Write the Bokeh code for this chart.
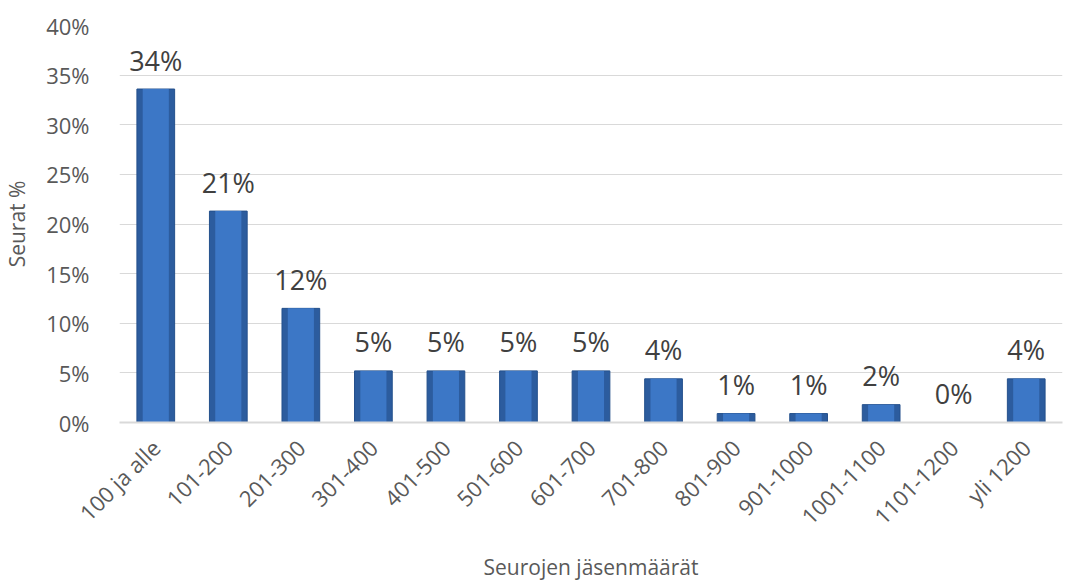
import math
from bokeh.plotting import figure
from bokeh.models import ColumnDataSource, NumeralTickFormatter, FixedTicker, Range1d
from bokeh.embed import file_html
from bokeh.resources import INLINE
from bokeh.core.properties import value

categories = ["100 ja alle", "101-200", "201-300", "301-400", "401-500", "501-600",
              "601-700", "701-800", "801-900", "901-1000", "1001-1100", "1101-1200", "yli 1200"]
shares = [0.336, 0.213, 0.115, 0.052, 0.052, 0.052, 0.052, 0.044, 0.009, 0.009, 0.018, 0.0, 0.044]
labels = ["34%", "21%", "12%", "5%", "5%", "5%", "5%", "4%", "1%", "1%", "2%", "0%", "4%"]
y_ticks = [0, 0.05, 0.10, 0.15, 0.20, 0.25, 0.30, 0.35, 0.40]

src = ColumnDataSource(dict(cat=categories, v=shares, lab=labels))

FONT = "Open Sans"
p = figure(x_range=categories, y_range=Range1d(0, 0.40), width=1074, height=583,
           output_backend="svg", toolbar_location=None,
           min_border_left=116, min_border_right=12, min_border_top=25, min_border_bottom=159)
p.outline_line_color = None
p.background_fill_color = "white"
p.border_fill_color = "white"

# bars: darker outer body with lighter centre to hint at bevel
p.vbar(x="cat", top="v", width=0.52, source=src, fill_color="#2C5C9E", line_color="#24508C", line_width=1)
p.vbar(x="cat", top="v", width=0.36, source=src, fill_color="#3C77C6", line_color=None)

p.text(x="cat", y="v", text="lab", source=src, text_align="center", text_baseline="alphabetic",
       y_offset=-29, text_font=value(FONT), text_font_size="27px", text_color="#404040")

p.yaxis.ticker = FixedTicker(ticks=y_ticks)
p.yaxis.formatter = NumeralTickFormatter(format="0%")
p.ygrid.ticker = FixedTicker(ticks=y_ticks)
p.ygrid.grid_line_color = "#D9D9D9"
p.ygrid.grid_line_width = 1.2
p.xgrid.grid_line_color = None

p.yaxis.axis_line_color = None
p.yaxis.major_tick_line_color = None
p.yaxis.minor_tick_line_color = None
p.yaxis.major_label_standoff = 24
p.yaxis.axis_label = "Seurat %"
p.yaxis.axis_label_standoff = 12

p.xaxis.axis_line_color = "#D9D9D9"
p.xaxis.axis_line_width = 2
p.xaxis.major_tick_line_color = None
p.xaxis.minor_tick_line_color = None
p.xaxis.major_label_orientation = math.pi / 4
p.xaxis.major_label_standoff = 15
p.xaxis.axis_label = "Seurojen jäsenmäärät"
p.xaxis.axis_label_standoff = 9

for ax in (p.xaxis, p.yaxis):
    ax.major_label_text_font = FONT
    ax.major_label_text_font_size = "22px"
    ax.major_label_text_color = "#595959"
    ax.axis_label_text_font = FONT
    ax.axis_label_text_font_size = "21px"
    ax.axis_label_text_font_style = "normal"
    ax.axis_label_text_color = "#595959"

p.x_range.range_padding = 0

open("out.html", "w").write(file_html(p, INLINE))
